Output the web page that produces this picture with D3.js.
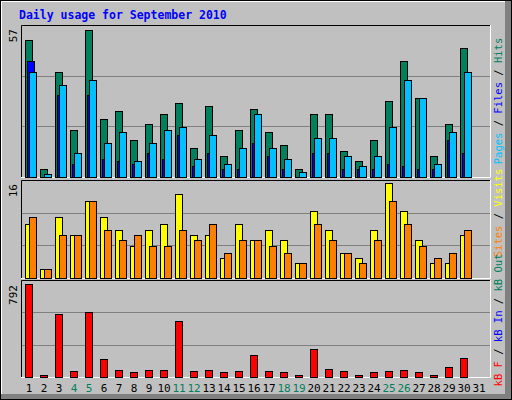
<!DOCTYPE html>
<html><head><meta charset="utf-8">
<script src="https://cdn.jsdelivr.net/npm/d3@7"></script>
<style>body{margin:0;background:#fff}text{font-family:"DejaVu Sans Mono",monospace}</style>
</head><body>
<script>
var days = d3.range(1, 32);
var weekend = [4, 5, 11, 12, 18, 19, 25, 26];
var hits  = [52,3,40,18,56,22,25,14,20,24,28,11,27,8,18,26,17,12,3,24,24,10,6,14,29,44,30,8,20,49,0];
var files = [40,1,35,9,37,13,17,6,13,18,19,7,16,5,11,24,11,7,2,15,15,8,4,8,19,37,30,5,17,40,0];
var pages = [44,0,31,5,31,7,6,5,9,7,16,4,9,3,3,13,8,3,0,9,9,3,3,3,5,4,3,3,14,9,0];
var visits = [8.8,1.4,9.8,7,12.5,9.8,7.8,5.1,7.8,8.8,13.5,7,7,3.3,8.8,6.1,7.8,6.1,2.4,10.8,7.8,4.1,3.3,7.8,15.3,10.8,6.1,2.4,2.4,7,0];
var sites  = [9.8,1.4,7,7,12.5,7.8,6.1,7,5.1,5.1,7.8,6.1,8.8,4.1,6.1,6.1,5.1,4.1,2.4,8.8,6.1,4.1,2.4,6.1,12.5,8.8,5.1,3.3,4.1,7.8,0];
var kbytes = [752,20,510,48,528,144,56,40,56,56,456,48,56,40,48,176,48,40,20,224,64,48,20,40,48,56,40,20,80,152,0];

var svg = d3.select("body").append("svg").attr("width", 512).attr("height", 400);
svg.append("rect").attr("x",0).attr("y",0).attr("width",512).attr("height",400).attr("fill","#c0c0c0");
svg.append("rect").attr("x",505).attr("y",1).attr("width",6).attr("height",398).attr("fill","#808080");
svg.append("rect").attr("x",1).attr("y",394).attr("width",510).attr("height",5).attr("fill","#808080");
svg.append("rect").attr("x",0.5).attr("y",0.5).attr("width",511).attr("height",399).attr("fill","none").attr("stroke","#000");
svg.append("line").attr("x1",1).attr("y1",1.5).attr("x2",505).attr("y2",1.5).attr("stroke","#fff");
svg.append("line").attr("x1",1.5).attr("y1",1).attr("x2",1.5).attr("y2",394).attr("stroke","#fff");

svg.append("text").attr("x",19).attr("y",19).attr("fill","#0000ff").attr("font-size",11.5).attr("font-weight","bold")
  .text("Daily usage for September 2010");

var x = d3.scaleLinear().domain([1, 2]).range([25, 40]);

function panel(y0, y1) {
  svg.append("rect").attr("x",21).attr("y",y0).attr("width",470).attr("height",y1-y0).attr("fill","#c0c0c0");
  [1/3, 2/3].forEach(function(f) {
    var gy = Math.round(y1 - (y1 - y0) * f) + 0.5;
    svg.append("line").attr("x1",21).attr("x2",491).attr("y1",gy).attr("y2",gy).attr("stroke","#808080");
  });
  svg.append("path").attr("d","M21.5,"+y1+"V"+(y0+0.5)+"H491").attr("fill","none").attr("stroke","#000");
  svg.append("path").attr("d","M21,"+(y1+0.5)+"H490.5V"+y0).attr("fill","none").attr("stroke","#fff");
}

function bars(data, y, dx, w, color) {
  svg.append("g").selectAll("rect").data(data).enter().append("rect")
    .attr("display", function(d) { return d > 0 ? null : "none"; })
    .attr("x", function(d, i) { return x(i + 1) + dx + 0.5; })
    .attr("y", function(d) { return Math.round(y(d)) + 0.5; })
    .attr("width", w)
    .attr("height", function(d) { return Math.max(0, y.range()[0] - Math.round(y(d))); })
    .attr("fill", color).attr("stroke", "#000");
}

function sideLabel(y, maxLabel) {
  svg.append("text").attr("transform","translate(17,"+(y+2)+") rotate(-90)")
    .attr("text-anchor","end").attr("font-size",11).attr("fill","#000").text(maxLabel);
}

function rightLabel(yc, parts) {
  var t = svg.append("text").attr("transform","translate(502,"+yc+") rotate(-90)")
    .attr("text-anchor","middle").attr("font-size",10.5);
  parts.forEach(function(p) { t.append("tspan").attr("fill", p[1]).text(p[0]); });
}

// top panel: hits / files / pages
panel(25, 177);
var y1 = d3.scaleLinear().domain([0, 57]).range([177, 27]);
bars(hits, y1, 0, 7, "#00805c");
bars(pages, y1, 2, 7, "#0000ff");
bars(files, y1, 4, 7, "#00c0ff");
sideLabel(27, "57");
rightLabel(101, [["Pages","#00c0ff"],[" / ","#000"],["Files","#0000ff"],[" / ","#000"],["Hits","#00805c"]]);

// middle panel: visits / sites
panel(180, 278);
var y2 = d3.scaleLinear().domain([0, 16]).range([278, 179]);
bars(visits, y2, 0, 7, "#ffff00");
bars(sites, y2, 4, 7, "#ff8000");
sideLabel(182, "16");
rightLabel(213, [["Sites","#ff8000"],[" / ","#000"],["Visits","#ffff00"]]);

// bottom panel: kB
panel(280, 377);
var y3 = d3.scaleLinear().domain([0, 792]).range([377, 279]);
bars(kbytes, y3, 0, 7, "#ff0000");
sideLabel(283, "792");
rightLabel(320, [["kB F","#ff0000"],[" / ","#000"],["kB In","#0000ff"],[" / ","#000"],["kB Out","#00805c"]]);

svg.append("g").selectAll("text").data(days).enter().append("text")
  .attr("x", function(d) { return x(d) + 4; })
  .attr("y", 392)
  .attr("text-anchor", "middle").attr("font-size", 11)
  .attr("fill", function(d) { return weekend.indexOf(d) >= 0 ? "#00805c" : "#000"; })
  .text(function(d) { return d; });
</script>
</body></html>
